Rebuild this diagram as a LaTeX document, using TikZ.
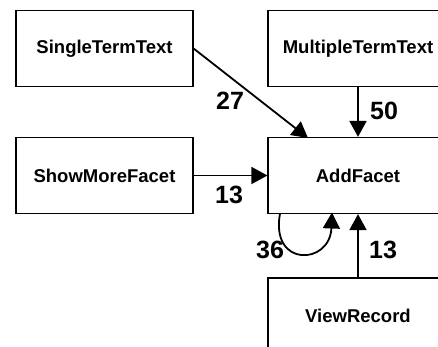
\documentclass[tikz,border=0pt]{standalone}
\usepackage{fontspec}
\setmainfont{Liberation Sans}
\usetikzlibrary{arrows.meta}
\begin{document}
\begin{tikzpicture}[x=1pt,y=-1pt,
  box/.style={draw,line width=1.2pt,minimum width=177pt,minimum height=76pt,inner sep=0pt,font=\fontsize{18.5}{22}\selectfont\bfseries},
  conn/.style={line width=1.8pt,-{Triangle[length=16pt,width=17pt]}},
  num/.style={font=\fontsize{25}{28}\selectfont\bfseries,inner sep=0pt}]
\useasboundingbox (0,0) rectangle (438,347);
\clip (0,0) rectangle (438,347);
\node[box] (stt) at (104.5,48.5) {SingleTermText};
\node[box,minimum width=180pt] (mtt) at (358,48.5) {MultipleTermText};
\node[box] (smf) at (104.5,175.5) {ShowMoreFacet};
\node[box,minimum width=180pt] (af) at (358,175.5) {AddFacet};
\node[box,minimum width=180pt,minimum height=76pt] (vr) at (358,316) {ViewRecord};
\coordinate (t1) at (308,138);
\draw[conn] (stt.east) -- (t1);
\draw[conn] (mtt.south) -- (af.north);
\draw[conn] (smf.east) -- (af.west);
\draw[conn] (vr.north) -- (af.south);
\coordinate (ls) at (280,213.5);
\coordinate (le) at (332,212.5);
\draw[conn] (ls) .. controls (270,268) and (330,265) .. (le);
\node[num] (n27) at (230,101) {27};
\node[num] (n50) at (384,111) {50};
\node[num] (n13a) at (229,195) {13};
\node[num] (n13b) at (383,250) {13};
\node[num] (n36) at (270,250) {36};
\end{tikzpicture}
\end{document}
